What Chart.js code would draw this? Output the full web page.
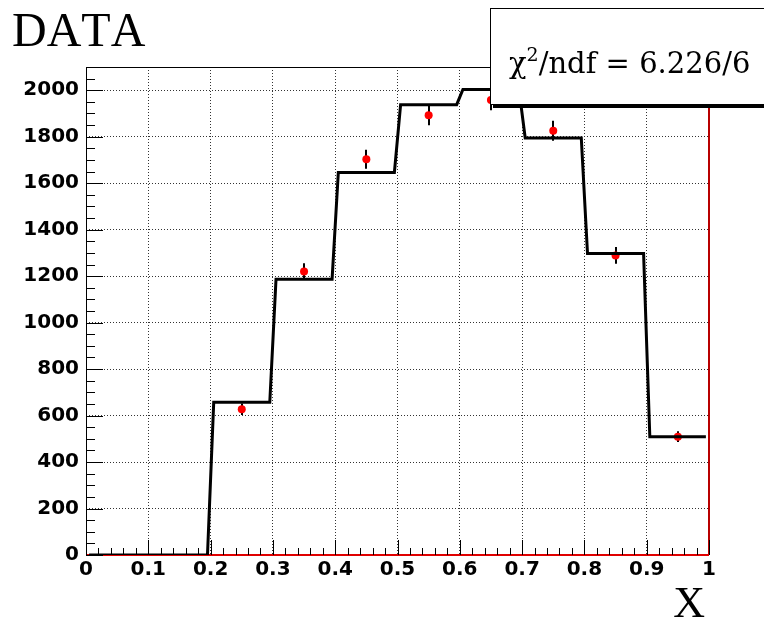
<!DOCTYPE html>
<html>
<head>
<meta charset="utf-8">
<script src="https://cdn.jsdelivr.net/npm/chart.js@4"></script>
<style>
  body { margin: 0; background: #fff; }
  canvas { display: block; }
</style>
</head>
<body>
<canvas id="chart" width="764" height="619"></canvas>
<script>
// measured histogram (bin centres, counts, errors)
const binCenters = [0.25, 0.35, 0.45, 0.55, 0.65, 0.75, 0.85, 0.95];
const counts = [627, 1220, 1703, 1892, 1958, 1826, 1289, 509];
const errors = [25, 35, 41, 43, 44, 43, 36, 23];

// fitted step function, as drawn
const fitX = [0.005, 0.195, 0.205, 0.295, 0.305, 0.395, 0.405, 0.495, 0.505, 0.595, 0.605, 0.695, 0.705, 0.795, 0.805, 0.895, 0.905, 0.995];
const fitY = [0, 0, 657, 657, 1187, 1187, 1646, 1646, 1938, 1938, 2003, 2003, 1795, 1795, 1297, 1297, 509, 509];

const xTickValues = [0, 0.1, 0.2, 0.3, 0.4, 0.5, 0.6, 0.7, 0.8, 0.9, 1];
const xTickLabels = ['0', '0.1', '0.2', '0.3', '0.4', '0.5', '0.6', '0.7', '0.8', '0.9', '1'];
const yTickValues = [0, 200, 400, 600, 800, 1000, 1200, 1400, 1600, 1800, 2000];
const yTickLabels = ['0', '200', '400', '600', '800', '1000', '1200', '1400', '1600', '1800', '2000'];

const chiText = '6.226/6';

const tickFont = { family: 'DejaVu Sans', weight: 'bold', size: 20 };

const framePlugin = {
  id: 'frame',
  beforeDatasetsDraw(chart) {
    const { ctx, chartArea: a, scales: { x, y } } = chart;
    ctx.save();
    // error bars
    ctx.strokeStyle = '#000';
    ctx.lineWidth = 2;
    binCenters.forEach((c, i) => {
      const px = Math.round(x.getPixelForValue(c));
      ctx.beginPath();
      ctx.moveTo(px, y.getPixelForValue(counts[i] - errors[i]));
      ctx.lineTo(px, y.getPixelForValue(counts[i] + errors[i]));
      ctx.stroke();
    });
    // frame
    ctx.lineWidth = 1;
    ctx.strokeStyle = '#000';
    ctx.beginPath();
    ctx.moveTo(a.left + 0.5, a.bottom);
    ctx.lineTo(a.left + 0.5, a.top + 0.5);
    ctx.lineTo(a.right, a.top + 0.5);
    ctx.stroke();
    ctx.lineWidth = 2;
    ctx.strokeStyle = '#b80000';
    ctx.beginPath();
    ctx.moveTo(a.right, a.top);
    ctx.lineTo(a.right, a.bottom);
    ctx.stroke();
    ctx.strokeStyle = '#e00000';
    ctx.beginPath();
    ctx.moveTo(a.left, a.bottom);
    ctx.lineTo(a.right, a.bottom);
    ctx.stroke();
    // inward ticks
    ctx.lineWidth = 1;
    ctx.strokeStyle = '#000';
    ctx.beginPath();
    for (let v = 0; v <= 2100; v += 50) {
      const py = Math.round(y.getPixelForValue(v)) + 0.5;
      const len = v % 200 === 0 ? 17 : 9;
      ctx.moveTo(a.left, py);
      ctx.lineTo(a.left + len, py);
    }
    for (let k = 0; k <= 50; k++) {
      const px = Math.round(x.getPixelForValue(k / 50)) + 0.5;
      const len = k % 5 === 0 ? 15 : 7;
      ctx.moveTo(px, a.bottom);
      ctx.lineTo(px, a.bottom - len);
    }
    ctx.stroke();
    ctx.restore();
  },
  afterDraw(chart) {
    const { ctx } = chart;
    ctx.save();
    ctx.fontKerning = 'none';
    ctx.fillStyle = '#000';
    ctx.textBaseline = 'alphabetic';
    ctx.font = '48px "Liberation Serif"';
    ctx.textAlign = 'left';
    ctx.fillText('DATA', 12, 46);
    ctx.font = '44px "Liberation Serif"';
    ctx.textAlign = 'right';
    ctx.fillText('X', 705, 617);

    // stats box
    ctx.fillStyle = '#000';
    ctx.fillRect(493, 104, 280, 4);
    ctx.fillStyle = '#fff';
    ctx.fillRect(490, 8, 280, 96);
    ctx.strokeStyle = '#000';
    ctx.lineWidth = 1;
    ctx.strokeRect(490.5, 8.5, 280, 96);

    ctx.fillStyle = '#000';
    ctx.textAlign = 'left';
    let tx = 509;
    const base = 73;
    ctx.font = '29px "DejaVu Serif"';
    ctx.fillText('\u03c7', tx, base);
    tx += ctx.measureText('\u03c7').width;
    ctx.font = '19px "DejaVu Serif"';
    ctx.fillText('2', tx, base - 12);
    tx += ctx.measureText('2').width;
    ctx.font = '29px "DejaVu Serif"';
    ctx.fillText('/ndf = ' + chiText, tx, base);
    ctx.restore();
  }
};

const ctx = document.querySelector('#chart').getContext('2d');

new Chart(ctx, {
  type: 'scatter',
  data: {
    datasets: [
      {
        type: 'line',
        data: fitX.map((v, i) => ({ x: v, y: fitY[i] })),
        borderColor: '#000',
        borderWidth: 3,
        pointRadius: 0,
        tension: 0,
        fill: false,
        order: 0
      },
      {
        data: binCenters.map((v, i) => ({ x: v, y: counts[i] })),
        backgroundColor: '#ff0000',
        borderWidth: 0,
        pointRadius: 4,
        order: 1
      }
    ]
  },
  options: {
    responsive: false,
    animation: false,
    layout: { padding: { top: 67, right: 55, left: 0, bottom: 0 } },
    plugins: { legend: { display: false }, tooltip: { enabled: false } },
    scales: {
      x: {
        type: 'linear',
        min: 0,
        max: 1,
        afterBuildTicks: s => { s.ticks = xTickValues.map(v => ({ value: v })); },
        afterFit: s => { s.height = 64; s.paddingLeft = 0; s.paddingRight = 0; },
        ticks: {
          callback: (v, i) => xTickLabels[i],
          font: tickFont,
          color: '#000',
          padding: 3,
          maxRotation: 0,
          autoSkip: false
        },
        grid: { color: '#333', lineWidth: 1, drawTicks: false },
        border: { display: false, dash: [1, 2] }
      },
      y: {
        type: 'linear',
        min: 0,
        max: 2100,
        afterBuildTicks: s => { s.ticks = yTickValues.map(v => ({ value: v })); },
        afterFit: s => { s.width = 86; s.paddingTop = 0; s.paddingBottom = 0; },
        ticks: {
          callback: (v, i) => yTickLabels[i],
          font: tickFont,
          color: '#000',
          padding: 7,
          autoSkip: false
        },
        grid: { color: '#333', lineWidth: 1, drawTicks: false },
        border: { display: false, dash: [1, 2] }
      }
    }
  },
  plugins: [framePlugin]
});
</script>
</body>
</html>
